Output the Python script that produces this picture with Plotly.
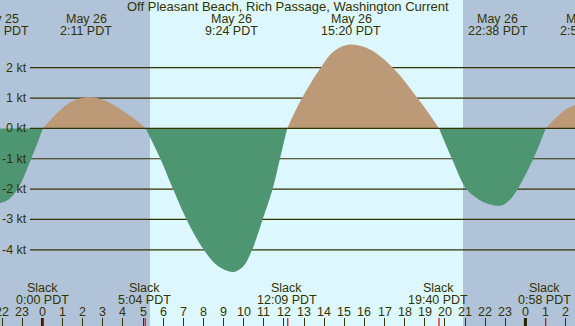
import plotly.graph_objects as go

W, H = 575, 326
title = "Off Pleasant Beach, Rich Passage, Washington Current"

# Current speed readings (hours after midnight May 26, knots), one list per flood/ebb lobe
ebb0_t = [-2.2, -1.7, -1.23, -0.56, 0.02]
ebb0_v = [-2.48, -2.35, -2.0, -1.0, 0.0]
flood1_t = [0.02, 0.5, 1.0, 1.5, 2.2, 3.0, 3.67, 4.3, 4.75, 5.13]
flood1_v = [0.0, 0.35, 0.67, 0.90, 1.03, 0.94, 0.72, 0.44, 0.22, 0.0]
ebb1_t = [5.13, 5.86, 6.49, 7.16, 8.02, 8.75, 9.48, 9.95, 10.39, 10.94, 11.44, 11.8, 12.16]
ebb1_v = [0.0, -1.0, -2.0, -3.0, -4.0, -4.55, -4.73, -4.57, -4.05, -3.0, -2.0, -1.0, 0.0]
flood2_t = [12.16, 12.9, 13.83, 14.5, 15.29, 16.3, 17.41, 18.64, 19.71]
flood2_v = [0.0, 1.0, 2.0, 2.55, 2.76, 2.59, 2.0, 1.0, 0.0]
ebb2_t = [19.71, 20.35, 21.07, 21.7, 22.2, 22.67, 22.95, 23.3, 23.62, 24.39, 25.01]
ebb2_v = [0.0, -1.0, -2.0, -2.35, -2.5, -2.55, -2.5, -2.3, -2.0, -1.0, 0.0]
flood3_t = [25.01, 25.4, 25.75, 26.1, 26.5]
flood3_v = [0.0, 0.28, 0.5, 0.66, 0.78]

# Max current events (top labels)
max_hours = [-2.16, 2.183, 9.4, 15.333, 22.633, 27.05]
max_dates = ["May 25", "May 26", "May 26", "May 26", "May 26", "May 27"]
max_times = ["21:50 PDT", "2:11 PDT", "9:24 PDT", "15:20 PDT", "22:38 PDT", "2:57 PDT"]

# Slack events (bottom labels)
slack_hours = [0.0, 5.067, 12.15, 19.667, 24.967]
slack_times = ["0:00 PDT", "5:04 PDT", "12:09 PDT", "19:40 PDT", "0:58 PDT"]

# Sunrise / sunset (hours)
sunrise, sunset = 5.34, 20.9

# Axis ticks
hour_vals = list(range(-2, 27))
hour_text = [str(h % 24) for h in hour_vals]
midnights = [0, 24]
kt_vals = [2, 1, 0, -1, -2, -3, -4]
kt_text = ["2 kt", "1 kt", "0 kt", "-1 kt", "-2 kt", "-3 kt", "-4 kt"]

XR = [-2.11, 26.465]
YR = [-6.51, 4.23]

NIGHT = "#B0C3D9"
DAY = "#DDF7FE"
TAN = "#BC9A78"
GREEN = "#4E9672"
INK = "#333300"
FONT = "Liberation Sans"
FS = 12.5

fig = go.Figure()
lobes = [(ebb0_t, ebb0_v), (flood1_t, flood1_v), (ebb1_t, ebb1_v),
         (flood2_t, flood2_v), (ebb2_t, ebb2_v), (flood3_t, flood3_v)]
for t, v in lobes:
    col = TAN if max(v) > 0 else GREEN
    fig.add_trace(go.Scatter(x=t, y=v, mode="lines", line=dict(width=0, shape="spline", color=col),
                             fill="tozeroy", fillcolor=col, hoverinfo="skip", showlegend=False))

shapes = [dict(type="rect", xref="x", yref="paper", x0=sunrise, x1=sunset, y0=0, y1=1,
               fillcolor=DAY, line=dict(width=0), layer="below")]
for k in kt_vals:
    shapes.append(dict(type="line", xref="paper", yref="y", x0=30 / W, x1=1, y0=k, y1=k,
                       line=dict(color=INK, width=1.2), layer="above" if k == 0 else "below"))
for m in midnights:
    shapes.append(dict(type="line", xref="x", yref="paper", x0=m, x1=m, y0=0, y1=8 / H,
                       line=dict(color="#222200", width=3)))
for s in slack_hours:
    shapes.append(dict(type="line", xref="x", yref="paper", x0=s + 0.04, x1=s + 0.04, y0=0, y1=8 / H,
                       line=dict(color="#EE0000", width=1.2)))


def xpos(h):
    if XR[0] <= h <= XR[1]:
        return "x", h
    return "paper", (h - XR[0]) / (XR[1] - XR[0])


ann = []


def text(x, y, s, xref="x", xanchor="center", size=FS):
    ann.append(dict(x=x, y=y, xref=xref, yref="paper", text=s, showarrow=False,
                    xanchor=xanchor, yanchor="middle", font=dict(family=FONT, size=size, color=INK)))


text(0.5, 1 - 7 / H, title, xref="paper", size=13)
for h, d, tm in zip(max_hours, max_dates, max_times):
    ref, xv = xpos(h)
    text(xv, 1 - 19 / H, d, xref=ref)
    text(xv, 1 - 31 / H, tm, xref=ref)
for h, tm in zip(slack_hours, slack_times):
    ref, xv = xpos(h)
    text(xv, 1 - 288 / H, "Slack", xref=ref)
    text(xv, 1 - 300 / H, tm, xref=ref)
for h, tx in zip(hour_vals, hour_text):
    ref, xv = xpos(h)
    text(xv, 1 - 311.5 / H, tx, xref=ref)
for k, tx in zip(kt_vals, kt_text):
    ann.append(dict(x=28.5 / W, y=k, xref="paper", yref="y", text=tx, showarrow=False,
                    xanchor="right", yanchor="middle", font=dict(family=FONT, size=FS, color=INK)))

fig.update_layout(
    width=W, height=H, margin=dict(l=0, r=0, t=0, b=0, pad=0),
    paper_bgcolor=NIGHT, plot_bgcolor=NIGHT,
    shapes=shapes, annotations=ann, showlegend=False,
    xaxis=dict(range=XR, showgrid=False, zeroline=False, showticklabels=False,
               tickvals=hour_vals, ticks="inside", ticklen=8, tickcolor=INK, tickwidth=1,
               showline=False, fixedrange=True),
    yaxis=dict(range=YR, showgrid=False, zeroline=False, showticklabels=False, fixedrange=True),
)
fig.write_html("out.html", config={"displayModeBar": False},
               post_script="document.body.style.margin='0';document.body.style.overflow='hidden';")
